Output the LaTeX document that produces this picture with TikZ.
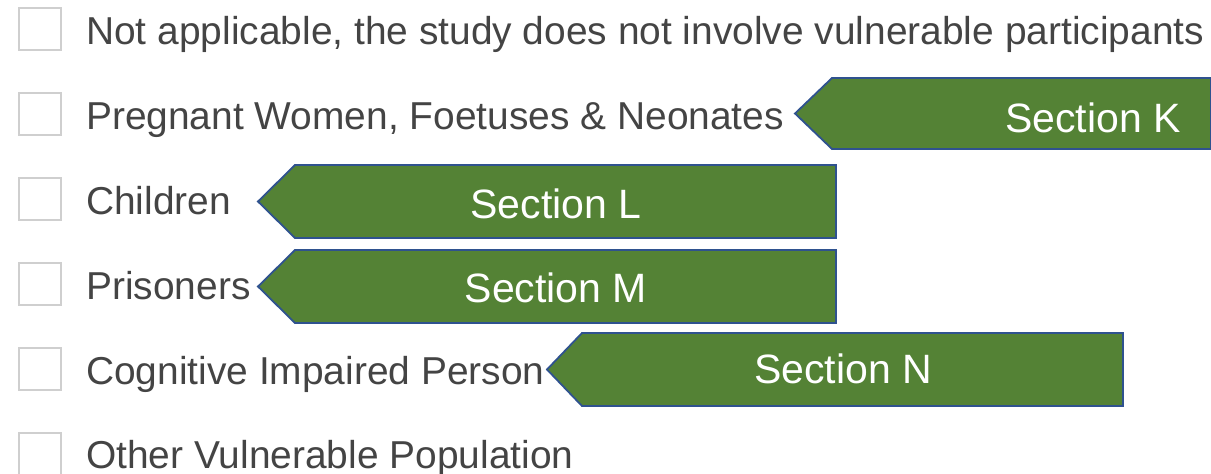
\documentclass[tikz,border=0pt]{standalone}
\usepackage{fontspec}
\setmainfont{Liberation Sans}
\definecolor{secgreen}{HTML}{548235}
\definecolor{secblue}{HTML}{2F528F}
\definecolor{txtgrey}{HTML}{444444}
\definecolor{boxgrey}{HTML}{CFCFCF}
\begin{document}
\begin{tikzpicture}[x=1pt,y=-1pt,
  chk/.style={draw=boxgrey, line width=1.2pt, fill=white},
  lbl/.style={anchor=base west, inner sep=0pt, text=txtgrey, font=\fontsize{38.9}{41}\selectfont},
  sec/.style={fill=secgreen, draw=secblue, line width=1.8pt, line join=miter},
  sectxt/.style={anchor=base, inner sep=0pt, text=white, font=\fontsize{41}{44}\selectfont}]
\useasboundingbox (0,0) rectangle (1211,474);
% checkboxes
\foreach \i in {0,...,5}{
  \draw[chk] (19,8+85*\i) rectangle +(42,42);
}
% labels
\node[lbl] (l1) at (86,44) {Not applicable, the study does not involve vulnerable participants};
\node[lbl] (l2) at (86,129) {Pregnant Women, Foetuses \& Neonates};
\node[lbl] (l3) at (86,214) {Children};
\node[lbl] (l4) at (86,299) {Prisoners};
\node[lbl] (l5) at (86,384) {Cognitive Impaired Person};
\node[lbl] (l6) at (86,468) {Other Vulnerable Population};
% section arrows
\draw[sec] (1211,78) -- (832,78) -- (795,113.5) -- (832,149) -- (1211,149) -- cycle;
\draw[sec] (836,165) -- (295,165) -- (258,201.5) -- (295,238) -- (836,238) -- cycle;
\draw[sec] (836,250) -- (295,250) -- (258,286.5) -- (295,323) -- (836,323) -- cycle;
\draw[sec] (1123,333) -- (582,333) -- (547,369.5) -- (582,406) -- (1123,406) -- cycle;
\node[sectxt] (sK) at (1093,132) {Section K};
\node[sectxt] (sL) at (556,218) {Section L};
\node[sectxt] (sM) at (556,302) {Section M};
\node[sectxt] (sN) at (843,383) {Section N};
\end{tikzpicture}
\end{document}
